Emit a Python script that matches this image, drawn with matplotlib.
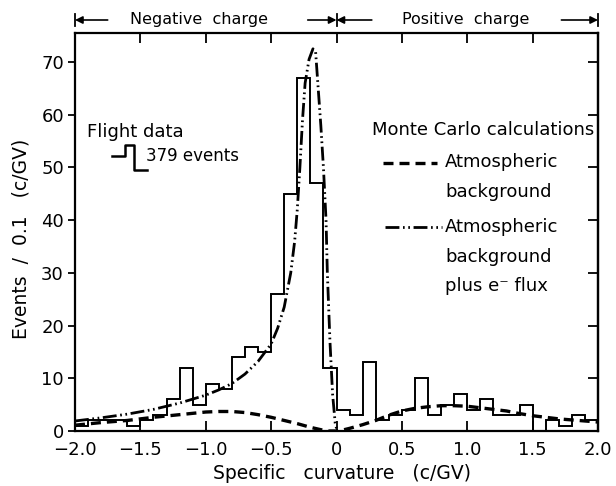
import numpy as np
import matplotlib
matplotlib.use('Agg')
import matplotlib.pyplot as plt
from matplotlib.lines import Line2D

# ---------------- data ----------------
bin_start = -2.0
bin_width = 0.1
counts = [1, 2, 2, 2, 1, 2, 3, 6, 12, 5,
          9, 8, 14, 16, 15, 26, 45, 67, 47, 12,
          4, 3, 13, 2, 3, 4, 10, 3, 5, 7,
          4, 6, 3, 3, 5, 0, 2, 1, 3, 2]

bg_x = [-2.0, -1.8, -1.6, -1.5, -1.4, -1.2, -1.0, -0.9, -0.8, -0.7, -0.6, -0.5,
        -0.4, -0.3, -0.2, -0.12, -0.06,
        0.0, 0.05, 0.1, 0.2, 0.3, 0.4, 0.5, 0.6, 0.7, 0.8, 0.9, 1.0, 1.1, 1.2,
        1.3, 1.4, 1.5, 1.6, 1.7, 1.8, 1.9, 2.0]
bg_y = [1.1, 1.6, 2.0, 2.3, 2.6, 3.1, 3.6, 3.7, 3.7, 3.5, 3.1, 2.6,
        2.0, 1.4, 0.7, 0.25, 0.0,
        0.0, 0.2, 0.5, 1.2, 2.0, 3.0, 3.8, 4.3, 4.6, 4.8, 4.8, 4.7, 4.4, 4.1,
        3.8, 3.3, 2.9, 2.6, 2.3, 2.1, 1.9, 1.7]

tot_x = [-2.0, -1.8, -1.6, -1.4, -1.2, -1.0, -0.9, -0.8, -0.7, -0.6, -0.5,
         -0.45, -0.4, -0.35, -0.32, -0.3, -0.28, -0.26, -0.24, -0.21, -0.18,
         -0.16, -0.14, -0.12, -0.10, -0.08, -0.07, -0.05, -0.03, -0.01, 0.0]
tot_y = [1.9, 2.5, 3.2, 4.1, 5.3, 6.8, 7.8, 9.0, 10.8, 13.2, 16.5,
         19.5, 23.5, 30.0, 36.0, 42.0, 50.0, 59.0, 66.0, 70.5, 72.5,
         72.0, 65.0, 58.0, 50.0, 40.0, 30.0, 17.0, 7.0, 1.5, 0.5]

xticks = [-2.0, -1.5, -1.0, -0.5, 0.0, 0.5, 1.0, 1.5, 2.0]
xticklabels = ['−2.0', '−1.5', '−1.0', '−0.5', '0', '0.5', '1.0', '1.5', '2.0']
yticks = [0, 10, 20, 30, 40, 50, 60, 70]

# ---------------- figure ----------------
W, H = 616, 486
fig = plt.figure(figsize=(W / 100, H / 100), dpi=100)
fig.patch.set_facecolor('white')


def fx(px):
    return px / W


def fy(py):
    return 1 - py / H


ax = fig.add_axes([fx(75), fy(431), 523 / W, 398 / H])

edges = np.round(bin_start + bin_width * np.arange(len(counts) + 1), 2)
ax.stairs(counts, edges, color='k', lw=1.4, baseline=None)

dash_bg = (3.0, 1.8)
dash_tot = (5.0, 1.3, 0.6, 1.3, 0.6, 1.3)
ax.plot(bg_x, bg_y, color='k', lw=2.4, dashes=dash_bg, dash_capstyle='butt')
ax.plot(tot_x, tot_y, color='k', lw=2.0, dashes=dash_tot, dash_capstyle='butt')

ax.set_xlim(-2.0, 2.0)
ax.set_ylim(0, 75.5)
ax.set_xticks(xticks)
ax.set_xticklabels(xticklabels)
ax.set_yticks(yticks)
for s in ax.spines.values():
    s.set_linewidth(1.6)
ax.tick_params(axis='x', direction='in', top=True, bottom=True, length=7,
               width=1.3, labelsize=13, pad=7)
ax.tick_params(axis='y', direction='out', left=True, right=False, length=5,
               width=1.3, labelsize=13, pad=3)
sec = ax.secondary_yaxis('right')
sec.set_yticks(yticks)
sec.tick_params(direction='in', length=7, width=1.3, labelright=False)
sec.spines['right'].set_linewidth(1.6)

ax.set_xlabel('Specific   curvature   (c/GV)', fontsize=13.5)
ax.xaxis.set_label_coords((342 - 75) / 523, (431 - 464) / 398)
ax.set_ylabel('Events  /  0.1   (c/GV)', fontsize=13.5)
ax.yaxis.set_label_coords((31 - 75) / 523, (431 - 239) / 398)

# ---------------- top charge annotation ----------------
tr = ax.get_xaxis_transform()
ya = (431 - 20) / 398
for xb in (-2.0, 0.0, 2.0):
    ax.plot([xb, xb], [(431 - 14) / 398, (431 - 26) / 398], color='k', lw=1.3,
            transform=tr, clip_on=False)
arrows = [(-1.75, -2.0), (-0.22, 0.0), (0.27, 0.0), (1.72, 2.0)]
for xt, xh in arrows:
    ax.annotate('', xy=(xh, ya), xytext=(xt, ya), xycoords=tr, textcoords=tr,
                arrowprops=dict(arrowstyle='-|>', color='k', lw=1.2,
                                mutation_scale=11, shrinkA=0, shrinkB=0))
ax.text(-1.05, ya, 'Negative  charge', transform=tr, ha='center', va='center',
        fontsize=11.5)
ax.text(0.99, ya, 'Positive  charge', transform=tr, ha='center', va='center',
        fontsize=11.5)

# ---------------- flight data legend ----------------
fig.text(fx(87), fy(132), 'Flight data', ha='left', va='center', fontsize=13)
icon_x = [112, 125, 125, 134, 134, 147]
icon_y = [156, 156, 145, 145, 170, 170]
fig.add_artist(Line2D([fx(v) for v in icon_x], [fy(v) for v in icon_y],
                      color='k', lw=1.8, transform=fig.transFigure))
fig.text(fx(146), fy(156), '379 events', ha='left', va='center', fontsize=12)

# ---------------- Monte Carlo legend ----------------
fig.text(fx(594), fy(130), 'Monte Carlo calculations', ha='right', va='center',
         fontsize=13)
fig.add_artist(Line2D([fx(383), fx(437)], [fy(163), fy(163)], color='k', lw=2.4,
                      dashes=dash_bg, dash_capstyle='butt',
                      transform=fig.transFigure))
fig.text(fx(445), fy(162), 'Atmospheric', ha='left', va='center', fontsize=13)
fig.text(fx(445), fy(192), 'background', ha='left', va='center', fontsize=13)
fig.add_artist(Line2D([fx(385), fx(442)], [fy(227), fy(227)], color='k', lw=2.0,
                      dashes=dash_tot, dash_capstyle='butt',
                      transform=fig.transFigure))
fig.text(fx(445), fy(227), 'Atmospheric', ha='left', va='center', fontsize=13)
fig.text(fx(445), fy(257), 'background', ha='left', va='center', fontsize=13)
fig.text(fx(445), fy(286), 'plus e⁻ flux', ha='left', va='center', fontsize=13)

fig.savefig('out.png', dpi=100)
